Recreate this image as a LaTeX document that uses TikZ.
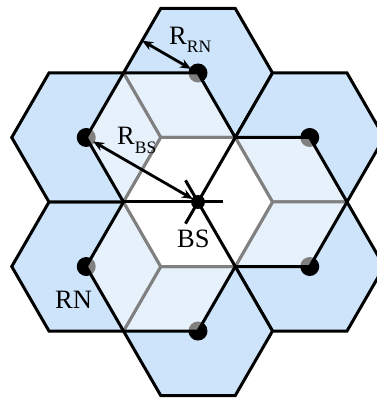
\documentclass[tikz,border=0pt]{standalone}
\usepackage{fontspec}
\setmainfont{Liberation Serif}
\usetikzlibrary{arrows.meta,calc}
\definecolor{cellblue}{RGB}{205,228,250}
\begin{document}
\begin{tikzpicture}[x=1pt,y=1pt,
  hexcell/.style={draw=black, line width=3pt, line join=miter},
  border/.style={draw=black, line width=3pt, line join=miter},
  spoke/.style={draw=black, line width=3pt},
  dim/.style={draw=black, line width=2.8pt, {Stealth[length=11pt,width=9pt]}-{Stealth[length=11pt,width=9pt]}},
  lbl/.style={inner sep=0pt, font=\fontsize{26.5}{30}\selectfont}]
\useasboundingbox (-198,-196) rectangle (178,202);
\def\R{74.5}
\pgfmathsetmacro{\D}{sqrt(3)*\R}
\pgfmathsetmacro{\h}{sqrt(3)*\R/2}

% base station and relay-node cell centres
\coordinate (BS) at (0,0);
\foreach \n/\a in {T/90, UR/30, LR/-30, B/-90, LL/-150, UL/150}
  \coordinate (\n) at (\a:\D);

% relay-node cells (blue) and central cell (white)
\foreach \a in {90,30,-30,-90,-150,150}
  \draw[hexcell, fill=cellblue, shift={(\a:\D)}]
    (0:\R) -- (60:\R) -- (120:\R) -- (180:\R) -- (240:\R) -- (300:\R) -- cycle;
\draw[hexcell, fill=white]
  (0:\R) -- (60:\R) -- (120:\R) -- (180:\R) -- (240:\R) -- (300:\R) -- cycle;

% relay nodes
\foreach \n in {T,UR,LR,B,LL,UL}
  \fill[black] (\n) circle (9.5);

% outline of the base-station cell
\coordinate (p1) at ($(T)+(180:\R)$);
\coordinate (p2) at ($(T)+(300:\R)$);
\coordinate (p3) at ($(UR)+(300:\R)$);
\coordinate (p4) at ($(LR)+(180:\R)$);
\coordinate (p5) at ($(B)+(180:\R)$);
\coordinate (p6) at ($(LL)+(60:\R)$);
\fill[white, opacity=0.5]
  (p1) -- (T) -- (p2) -- (UR) -- (p3) -- (LR) -- (p4) -- (B) -- (p5) -- (LL) -- (p6) -- (UL) -- cycle;
\draw[border]
  (p1) -- (T) -- (p2) -- (UR) -- (p3) -- (LR) -- (p4) -- (B) -- (p5) -- (LL) -- (p6) -- (UL) -- cycle;

% sector boundaries through the base station
\coordinate (s2) at ($(BS)!-25pt!(p2)$);
\coordinate (s4) at ($(BS)!-25pt!(p4)$);
\coordinate (s6) at ($(BS)!-25pt!(p6)$);
\draw[spoke] (p2) -- (s2);
\draw[spoke] (p4) -- (s4);
\draw[spoke] (p6) -- (s6);
\fill[black] (BS) circle (7);

% radii
\coordinate (eRN) at ($(T)+(150:\h)$);
\draw[dim, shorten >=8pt] (eRN) -- (T);
\draw[dim, shorten <=8pt, shorten >=6pt] (UL) -- (BS);

% labels
\node[lbl, anchor=base west] (lRRN) at (-29,157) {R\raisebox{-8pt}{\fontsize{17.5}{17}\selectfont RN}};
\node[lbl, anchor=base west] (lRBS) at (-81,57) {R\raisebox{-9pt}{\fontsize{17.5}{17}\selectfont BS}};
\node[lbl, anchor=base west] (lBS) at (-21,-46) {BS};
\node[lbl, anchor=base west] (lRN) at (-143,-106) {RN};
\end{tikzpicture}
\end{document}
